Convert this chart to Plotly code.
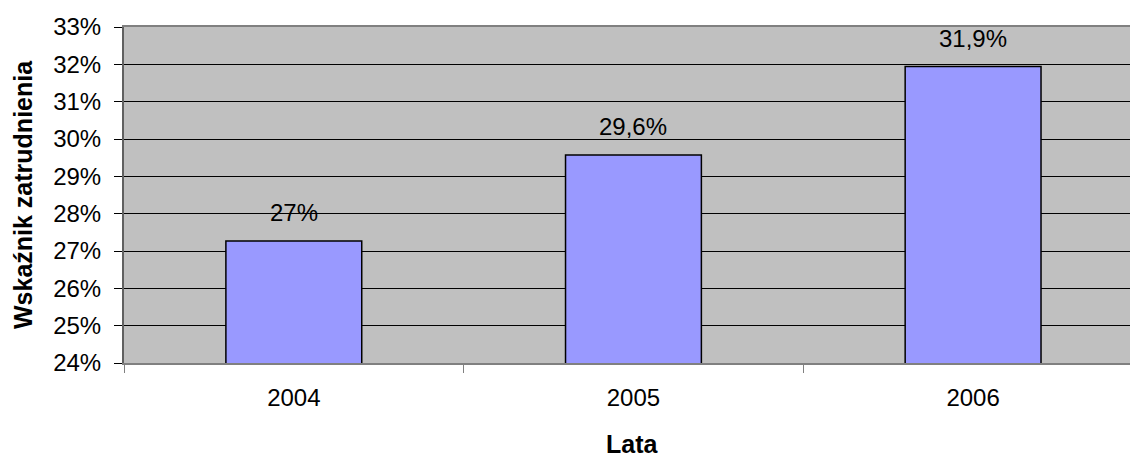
import plotly.graph_objects as go

years = ["2004", "2005", "2006"]
rates = [0.2727, 0.2957, 0.3194]
labels = ["27%", "29,6%", "31,9%"]
y_ticks = [0.24, 0.25, 0.26, 0.27, 0.28, 0.29, 0.30, 0.31, 0.32, 0.33]
y_tick_text = ["24%", "25%", "26%", "27%", "28%", "29%", "30%", "31%", "32%", "33%"]

FONT = "Liberation Sans, Arial, sans-serif"

W, H = 1130, 457
L, T, B = 124, 27, 94
PW, PH = W - L, H - T - B

fig = go.Figure()
fig.add_trace(go.Bar(
    x=years, y=rates, width=0.4,
    marker=dict(color="#9999FF", line=dict(color="#000000", width=1.5)),
    hoverinfo="skip",
))

for i, (y, t) in enumerate(zip(rates, labels)):
    fig.add_annotation(x=i, y=y, xref="x", yref="y", text=t, showarrow=False,
                       xanchor="center", yanchor="bottom", yshift=13,
                       font=dict(family=FONT, size=24, color="#000000"))

fig.add_annotation(xref="paper", yref="paper", x=(23 - L) / PW, y=0.5,
                   text="<b>Wskaźnik zatrudnienia</b>", textangle=-90,
                   showarrow=False, xanchor="center", yanchor="middle",
                   font=dict(family=FONT, size=25, color="#000000"))
fig.add_annotation(xref="paper", yref="paper", x=(632 - L) / PW, y=-(444 - (T + PH)) / PH,
                   text="<b>Lata</b>", showarrow=False, xanchor="center", yanchor="middle",
                   font=dict(family=FONT, size=25, color="#000000"))

fig.update_layout(
    width=W, height=H,
    margin=dict(l=L, r=0, t=T, b=B, pad=0),
    paper_bgcolor="#FFFFFF", plot_bgcolor="#C0C0C0",
    showlegend=False,
    font=dict(family=FONT, size=24, color="#000000"),
)
fig.update_xaxes(
    type="category", range=[-0.5, 2.462],
    showgrid=False, showline=True, linecolor="#808080", linewidth=2,
    mirror=True,
    ticks="outside", tickson="boundaries", ticklen=8, tickcolor="#808080", tickwidth=1,
    ticklabelstandoff=12,
    tickfont=dict(family=FONT, size=24, color="#000000"),
)
fig.update_yaxes(
    range=[0.24, 0.33], tickvals=y_ticks, ticktext=y_tick_text,
    showgrid=True, gridcolor="#000000", gridwidth=1,
    showline=True, linecolor="#606060", linewidth=2,
    ticks="outside", ticklen=8, tickcolor="#000000", tickwidth=1,
    ticklabelstandoff=8, zeroline=False,
    tickfont=dict(family=FONT, size=24, color="#000000"),
)

fig.write_html(
    "out.html",
    config={"displayModeBar": False, "staticPlot": True},
    post_script="document.body.style.margin='0';document.body.style.overflow='hidden';",
)
